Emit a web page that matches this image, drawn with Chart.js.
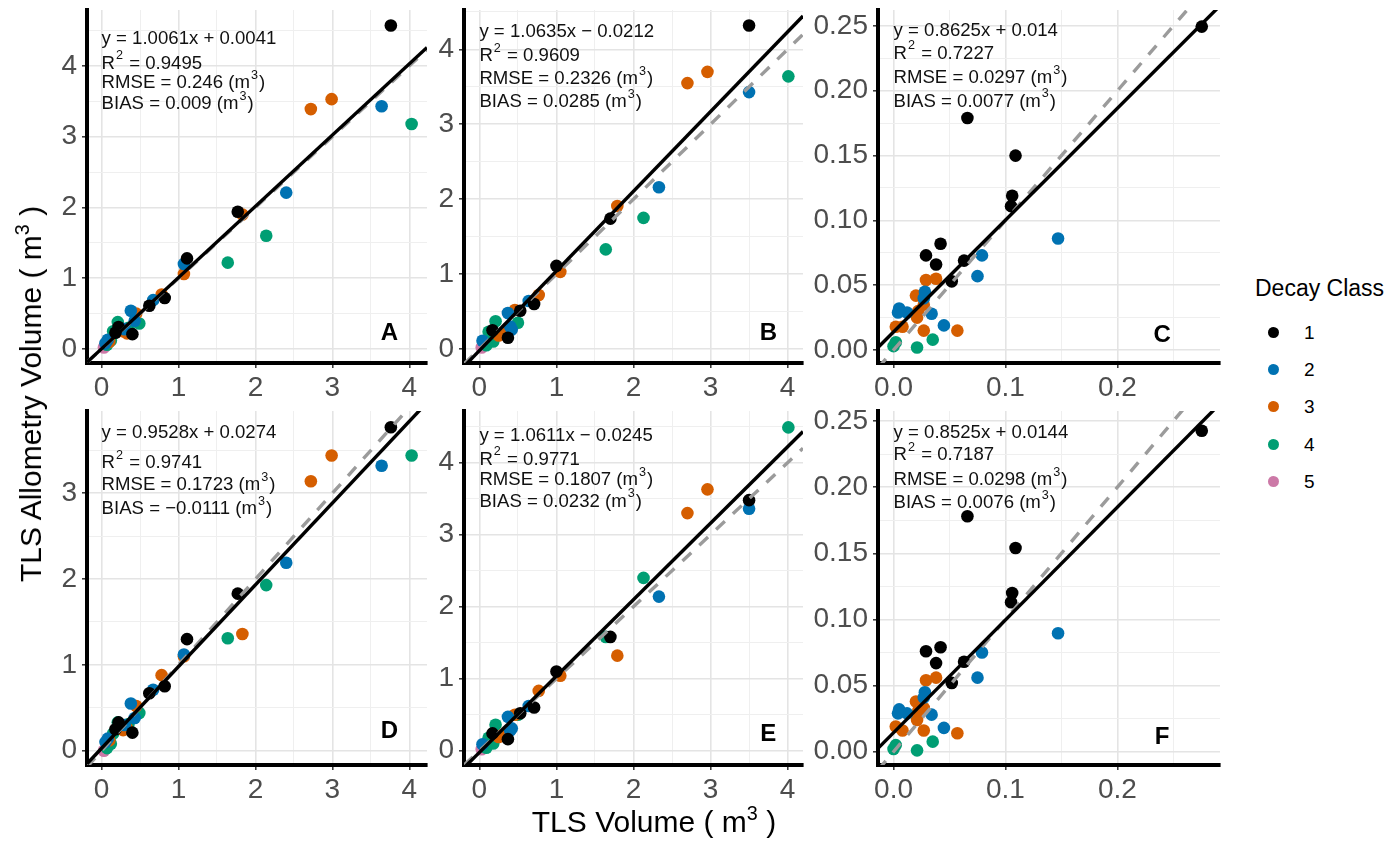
<!DOCTYPE html>
<html>
<head>
<meta charset="utf-8">
<script src="https://cdn.jsdelivr.net/npm/chart.js@4.4.1/dist/chart.umd.min.js"></script>
<style>
html,body{margin:0;padding:0;background:#fff;}
#wrap{position:relative;width:1395px;height:848px;overflow:hidden;font-family:'Liberation Sans',Arial,sans-serif;background:#fff;}
#wrap canvas{position:absolute;}
.t{position:absolute;white-space:nowrap;line-height:1;color:#000;}
.t sup{font-size:0.66em;vertical-align:0;position:relative;top:-0.62em;}
.dot{position:absolute;width:11px;height:11px;border-radius:50%;}
</style>
</head>
<body>
<div id="wrap">
  <canvas id="cA" width="440" height="405" style="left:0px;top:0px"></canvas>
  <canvas id="cB" width="385" height="405" style="left:430px;top:0px"></canvas>
  <canvas id="cC" width="420" height="405" style="left:810px;top:0px"></canvas>
  <canvas id="cD" width="440" height="405" style="left:0px;top:400px"></canvas>
  <canvas id="cE" width="385" height="405" style="left:430px;top:400px"></canvas>
  <canvas id="cF" width="420" height="405" style="left:810px;top:400px"></canvas>

  <div class="t" id="ytitle" style="left:31px;top:394px;font-size:30px;transform:translate(-50%,-50%) rotate(-90deg);">TLS Allometry Volume ( m<sup>3</sup> )</div>
  <div class="t" id="xtitle" style="left:654px;top:822px;font-size:30px;transform:translate(-50%,-50%);">TLS Volume ( m<sup>3</sup> )</div>
  <div id="legend"></div>
</div>
<script>
// ---------------- data ----------------
const decayClasses = [1, 2, 3, 4, 5];

// Panels A and D share the TLS volume (x) values
const adTLS   = [3.76,2.72,2.99,3.64,4.03,2.40,1.77,1.83,2.14,1.64, 1.11,1.07,1.07,0.78,0.82,0.67,0.62,0.38,0.45,0.49, 0.43,0.21,0.22,0.40,0.33,0.28,0.15,0.08,0.12,0.07, 0.03,0.30,0.18,0.05,0.35,0.10];
const adClass = [1,3,3,2,4,2,1,3,4,4, 1,2,3,3,1,2,1,2,3,4, 2,4,1,1,3,3,4,2,4,4, 5,2,1,2,4,3];
const aAllom  = [4.57,3.39,3.53,3.43,3.18,2.21,1.94,1.90,1.60,1.22, 1.28,1.20,1.06,0.77,0.72,0.69,0.61,0.54,0.50,0.36, 0.40,0.38,0.31,0.21,0.22,0.25,0.25,0.13,0.12,0.06, 0.02,0.28,0.23,0.08,0.30,0.10];
const dAllom  = [3.77,3.14,3.44,3.32,3.44,2.19,1.83,1.36,1.93,1.31, 1.30,1.12,1.10,0.88,0.75,0.71,0.67,0.55,0.52,0.44, 0.38,0.33,0.33,0.21,0.26,0.24,0.20,0.14,0.08,0.03, 0.00,0.30,0.25,0.10,0.31,0.12];

// Panels B and E share the TLS volume (x) values
const beTLS   = [3.50,2.70,2.96,4.01,3.50,2.33,1.79,1.70,2.13,1.64, 1.00,1.05,0.77,0.71,0.64,0.53,0.46,0.37,0.50,0.42, 0.35,0.37,0.30,0.21,0.17,0.12,0.18,0.04,0.03,0.09, 0.25,0.40];
const beClass = [1,3,3,4,2,2,3,1,4,4, 1,3,3,1,2,1,3,2,4,2, 3,1,3,4,1,4,4,2,5,4, 3,2];
const bAllom  = [4.32,3.55,3.70,3.64,3.43,2.16,1.91,1.74,1.75,1.33, 1.11,1.03,0.72,0.60,0.64,0.51,0.52,0.48,0.35,0.26, 0.26,0.15,0.20,0.37,0.25,0.23,0.10,0.11,0.02,0.05, 0.18,0.30];
const eAllom  = [3.48,3.30,3.63,4.49,3.36,2.14,1.32,1.58,2.40,1.58, 1.10,1.04,0.83,0.60,0.62,0.52,0.50,0.47,0.50,0.31, 0.26,0.16,0.22,0.36,0.24,0.18,0.10,0.09,0.02,0.04, 0.19,0.28];

// Panels C and F share the TLS volume (x) values
const cfTLS   = [0.2754,0.066,0.109,0.106,0.105,0.147,0.042,0.029,0.038,0.063, 0.079,0.075,0.052,0.029,0.038,0.028,0.020,0.027,0.027,0.005, 0.012,0.034,0.021,0.022,0.002,0.008,0.045,0.027,0.057,0.035, 0.021,0.000,0.002,0.004];
const cfClass = [1,1,1,1,1,2,1,1,1,1, 2,2,1,3,3,2,3,2,3,2, 2,2,3,3,3,3,2,3,3,4, 4,4,4,2];
const cAllom  = [0.2495,0.179,0.150,0.119,0.111,0.086,0.082,0.073,0.066,0.069, 0.073,0.057,0.053,0.054,0.055,0.045,0.042,0.040,0.035,0.032, 0.029,0.028,0.025,0.030,0.018,0.018,0.019,0.015,0.015,0.008, 0.002,0.003,0.006,0.029];
const fAllom  = [0.2427,0.178,0.154,0.120,0.113,0.0895,0.079,0.076,0.067,0.068, 0.075,0.056,0.052,0.054,0.056,0.045,0.038,0.041,0.033,0.032, 0.029,0.028,0.024,0.031,0.019,0.016,0.018,0.016,0.014,0.0076, 0.001,0.002,0.005,0.029];

// Regression fits and statistics (A..F)
const panelLetters = ['A','B','C','D','E','F'];
const slopes       = [1.0061, 1.0635, 0.8625, 0.9528, 1.0611, 0.8525];
const intercepts   = [0.0041, -0.0212, 0.014, 0.0274, -0.0245, 0.0144];
const eqLabels     = ['y = 1.0061x + 0.0041','y = 1.0635x \u2212 0.0212','y = 0.8625x + 0.014','y = 0.9528x + 0.0274','y = 1.0611x \u2212 0.0245','y = 0.8525x + 0.0144'];
const r2Labels     = ['0.9495','0.9609','0.7227','0.9741','0.9771','0.7187'];
const rmseLabels   = ['0.246','0.2326','0.0297','0.1723','0.1807','0.0298'];
const biasLabels   = ['0.009','0.0285','0.0077','\u22120.0111','0.0232','0.0076'];

// Tick values
const volTicks      = [0,0.5,1,1.5,2,2.5,3,3.5,4,4.5];
const volMajor      = [0,1,2,3,4];
const smallXTicks   = [0,0.05,0.1,0.15,0.2,0.25];
const smallXMajor   = [0,0.1,0.2];
const smallYTicks   = [0,0.025,0.05,0.075,0.1,0.125,0.15,0.175,0.2,0.225,0.25];
const smallYMajor   = [0,0.05,0.1,0.15,0.2,0.25];

const legendTitle = 'Decay Class';

// ---------------- styling ----------------
const FONT = "'Liberation Sans', Arial, sans-serif";
const palette = {1:'#000000', 2:'#0072B2', 3:'#D55E00', 4:'#009E73', 5:'#CC79A7'};
const drawOrder = {1:2, 2:3, 3:4, 4:5, 5:6};

const isIn = (arr, v) => arr.some(m => Math.abs(m - v) < 1e-9);

function drawRich(ctx, s, x, y, size) {
  const parts = s.split(/(\^.)/);
  let cx = x;
  for (const p of parts) {
    if (!p) continue;
    if (p[0] === '^') {
      ctx.font = `${size*0.68}px ${FONT}`;
      ctx.fillText(p[1], cx + 1, y - size*0.42);
      cx += ctx.measureText(p[1]).width + 2;
    } else {
      ctx.font = `${size}px ${FONT}`;
      ctx.fillText(p, cx, y);
      cx += ctx.measureText(p).width;
    }
  }
}

const panelText = {
  id: 'panelText',
  afterDatasetsDraw(chart, args, o) {
    const {ctx, chartArea, scales} = chart;
    ctx.save();
    ctx.fillStyle = '#111';
    ctx.textBaseline = 'middle';
    ctx.textAlign = 'left';
    const x = scales.x.getPixelForValue(0);
    o.lines.forEach((s, i) => drawRich(ctx, s, x, chartArea.top + o.offsets[i], 18.6));
    ctx.font = `bold 24px ${FONT}`;
    ctx.textAlign = 'center';
    ctx.fillStyle = '#000';
    ctx.fillText(o.letter, scales.x.getPixelForValue(o.letterPos[0]), scales.y.getPixelForValue(o.letterPos[1]));
    ctx.restore();
  }
};

function axis(p, dir) {
  const horiz = dir === 'x';
  const ticks = horiz ? p.xTicks : p.yTicks;
  const major = horiz ? p.xMajor : p.yMajor;
  const fmt = horiz ? p.xFmt : p.yFmt;
  const lim = horiz ? p.xlim : p.ylim;
  return {
    type: 'linear',
    position: horiz ? 'bottom' : 'left',
    min: lim[0], max: lim[1],
    afterBuildTicks: s => { s.ticks = ticks.filter(v => v >= s.min - 1e-9 && v <= s.max + 1e-9).map(v => ({value: v})); },
    afterFit: s => {
      if (horiz) { s.height = p.xH; s.paddingLeft = 0; s.paddingRight = 0; }
      else { s.width = p.yW; s.paddingTop = 0; s.paddingBottom = 0; }
    },
    ticks: {
      autoSkip: false, maxRotation: 0, minRotation: 0,
      padding: horiz ? 3 : 5,
      color: '#4D4D4D',
      font: {family: FONT, size: 28},
      callback: v => isIn(major, v) ? fmt(v) : ''
    },
    grid: {
      drawOnChartArea: true, drawTicks: true, tickLength: 5,
      color: c => (c.tick && isIn(major, c.tick.value)) ? '#E4E4E4' : '#EFEFEF',
      lineWidth: c => (c.tick && isIn(major, c.tick.value)) ? 1.6 : 1,
      tickColor: c => (c.tick && isIn(major, c.tick.value)) ? '#333333' : 'rgba(0,0,0,0)',
      tickWidth: 1.5
    },
    border: {display: true, color: '#000', width: 4}
  };
}

function buildPanel(id, p) {
  const [x0, x1] = p.xlim;
  const datasets = [
    {type: 'line', data: [{x: x0, y: p.slope*x0 + p.intercept}, {x: x1, y: p.slope*x1 + p.intercept}],
     borderColor: '#000', borderWidth: 3.4, pointRadius: 0, tension: 0, order: 0, clip: 0},
    {type: 'line', data: [{x: x0, y: x0}, {x: x1, y: x1}],
     borderColor: '#9B9B9B', borderWidth: 3.4, borderDash: [12, 11], pointRadius: 0, tension: 0, order: 1, clip: 0}
  ];
  for (const k of decayClasses) {
    const pts = p.xs.map((x, i) => ({x: x, y: p.ys[i], k: p.cls[i]})).filter(d => d.k === k);
    datasets.push({type: 'scatter', label: String(k), data: pts, backgroundColor: palette[k],
      borderWidth: 0, pointRadius: 6.3, pointHoverRadius: 6.3, order: drawOrder[k]});
  }
  new Chart(document.getElementById(id), {
    type: 'scatter',
    data: {datasets},
    options: {
      responsive: false, animation: false, devicePixelRatio: 1,
      events: [],
      layout: {padding: {left: 0, top: p.padTop, right: p.padRight, bottom: 0}},
      plugins: {
        legend: {display: false}, tooltip: {enabled: false},
        panelText: {lines: p.lines, offsets: p.offsets, letter: p.letter, letterPos: p.letterPos}
      },
      scales: {x: axis(p, 'x'), y: axis(p, 'y')}
    },
    plugins: [panelText]
  });
}

const intFmt = v => String(Math.round(v));
const f1 = v => v.toFixed(1);
const f2 = v => v.toFixed(2);

function texts(i) {
  return [eqLabels[i], `R^2 = ${r2Labels[i]}`, `RMSE = ${rmseLabels[i]} (m^3)`, `BIAS = ${biasLabels[i]} (m^3)`];
}

const big = {xTicks: volTicks, xMajor: volMajor, yTicks: volTicks, yMajor: volMajor, xFmt: intFmt, yFmt: intFmt};
const small = {xTicks: smallXTicks, xMajor: smallXMajor, yTicks: smallYTicks, yMajor: smallYMajor, xFmt: f1, yFmt: f2};
const col = [{yW: 87, padRight: 13}, {yW: 34, padRight: 12}, {yW: 68, padRight: 10}];
const row = [{padTop: 10, xH: 42}, {padTop: 11, xH: 40}];

buildPanel('cA', Object.assign({}, big, col[0], row[0], {xs: adTLS, ys: aAllom, cls: adClass,
  xlim: [-0.19, 4.23], ylim: [-0.198, 4.79], slope: slopes[0], intercept: intercepts[0],
  lines: texts(0), offsets: [29, 53.5, 73, 94], letter: panelLetters[0], letterPos: [3.74, 0.22]}));
buildPanel('cB', Object.assign({}, big, col[1], row[0], {xs: beTLS, ys: bAllom, cls: beClass,
  xlim: [-0.2, 4.2], ylim: [-0.187, 4.526], slope: slopes[1], intercept: intercepts[1],
  lines: texts(1), offsets: [22, 46, 69, 92], letter: panelLetters[1], letterPos: [3.75, 0.21]}));
buildPanel('cC', Object.assign({}, small, col[2], row[0], {xs: cfTLS, ys: cAllom, cls: cfClass,
  xlim: [-0.0139, 0.2917], ylim: [-0.0100, 0.2623], slope: slopes[2], intercept: intercepts[2],
  lines: texts(2), offsets: [21, 43.5, 68, 91.5], letter: panelLetters[2], letterPos: [0.24, 0.0116]}));
buildPanel('cD', Object.assign({}, big, col[0], row[1], {xs: adTLS, ys: dAllom, cls: adClass,
  xlim: [-0.19, 4.23], ylim: [-0.167, 3.959], slope: slopes[3], intercept: intercepts[3],
  lines: texts(3), offsets: [22, 52, 74, 98], letter: panelLetters[3], letterPos: [3.74, 0.22]}));
buildPanel('cE', Object.assign({}, big, col[1], row[1], {xs: beTLS, ys: eAllom, cls: beClass,
  xlim: [-0.2, 4.2], ylim: [-0.199, 4.718], slope: slopes[4], intercept: intercepts[4],
  lines: texts(4), offsets: [24.5, 48.5, 69, 90.5], letter: panelLetters[4], letterPos: [3.75, 0.22]}));
buildPanel('cF', Object.assign({}, small, col[2], row[1], {xs: cfTLS, ys: fAllom, cls: cfClass,
  xlim: [-0.0139, 0.2917], ylim: [-0.01006, 0.2576], slope: slopes[5], intercept: intercepts[5],
  lines: texts(5), offsets: [21.5, 44, 69, 92], letter: panelLetters[5], letterPos: [0.24, 0.011]}));

// ---------------- legend (HTML) ----------------
(function () {
  const lg = document.getElementById('legend');
  let html = `<div class="t" style="left:1255px;top:277px;font-size:23px;">${legendTitle}</div>`;
  const ys = [332, 369, 406, 444, 481];
  decayClasses.forEach((k, i) => {
    html += `<div class="dot" style="left:${1273-5.5}px;top:${ys[i]-5.5}px;background:${palette[k]}"></div>`;
    html += `<div class="t" style="left:1304px;top:${ys[i]-9.5}px;font-size:19px;">${k}</div>`;
  });
  lg.innerHTML = html;
})();
</script>
</body>
</html>
